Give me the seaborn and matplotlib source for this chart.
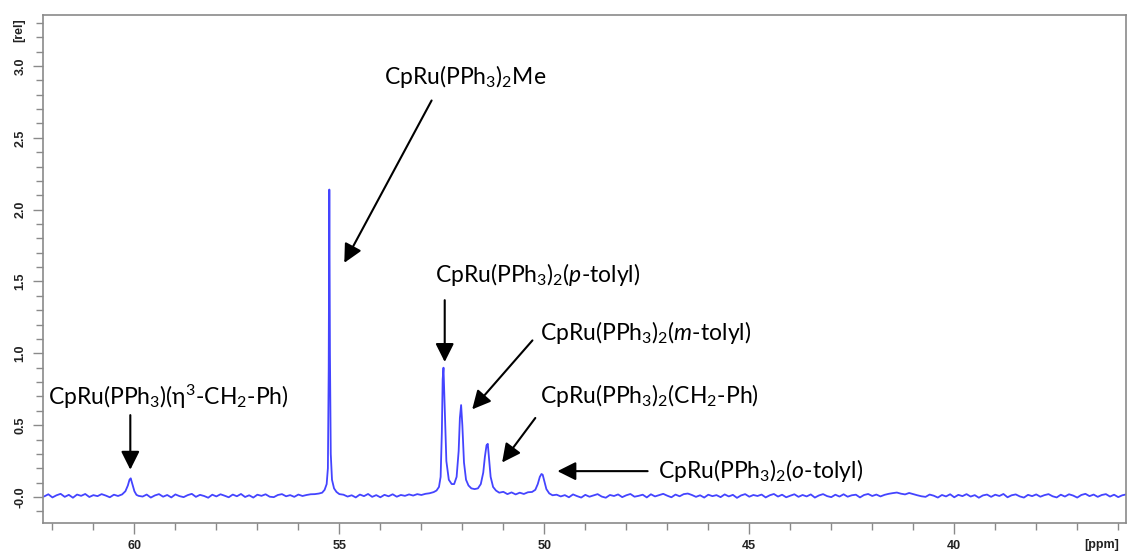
import numpy as np
import pandas as pd
import matplotlib
matplotlib.use("Agg")
import matplotlib.pyplot as plt
import matplotlib.transforms as mtransforms
from matplotlib.ticker import MultipleLocator
import seaborn as sns

# ---------------- data ----------------
ppm_a = [62.2, 62.1, 62.0, 61.9, 61.8, 61.7, 61.6, 61.5, 61.4, 61.3, 61.2, 61.1,
         61.0, 60.9, 60.8, 60.7, 60.6, 60.5, 60.4]
rel_a = [0.004, 0.019, -0.003, 0.012, 0.022, 0.001, 0.015, -0.005, 0.017, 0.008,
         0.021, 0.000, 0.013, 0.006, 0.020, 0.010, -0.002, 0.016, 0.007]

ppm_p1 = [60.3, 60.22, 60.16, 60.12, 60.09, 60.05, 60.0, 59.95, 59.9]
rel_p1 = [0.018, 0.040, 0.080, 0.120, 0.130, 0.090, 0.040, 0.015, 0.008]

ppm_b = [59.8, 59.7, 59.6, 59.5, 59.4, 59.3, 59.2, 59.1, 59.0, 58.9, 58.8, 58.7,
         58.6, 58.5, 58.4, 58.3, 58.2, 58.1, 58.0, 57.9, 57.8, 57.7, 57.6, 57.5,
         57.4, 57.3, 57.2, 57.1, 57.0, 56.9, 56.8, 56.7, 56.6, 56.5, 56.4, 56.3,
         56.2, 56.1, 56.0, 55.9, 55.8, 55.7, 55.6, 55.5]
rel_b = [0.003, 0.017, -0.004, 0.011, 0.020, 0.002, 0.014, -0.003, 0.018, 0.006,
         -0.001, 0.013, 0.022, 0.001, 0.015, 0.007, -0.005, 0.016, 0.004, 0.019,
         0.009, -0.002, 0.017, 0.005, 0.021, 0.000, 0.012, -0.004, 0.016, 0.008,
         0.019, 0.002, -0.001, 0.014, 0.020, 0.005, 0.013, 0.001, 0.017, 0.007,
         0.014, 0.019, 0.020, 0.024]

ppm_p2 = [55.42, 55.36, 55.31, 55.28, 55.26, 55.245, 55.23, 55.21, 55.18, 55.13,
          55.07, 55.0]
rel_p2 = [0.030, 0.050, 0.090, 0.200, 0.900, 2.140, 1.000, 0.300, 0.120, 0.060,
          0.035, 0.020]

ppm_c = [54.9, 54.8, 54.7, 54.6, 54.5, 54.4, 54.3, 54.2, 54.1, 54.0, 53.9, 53.8,
         53.7, 53.6, 53.5, 53.4, 53.3, 53.2, 53.1, 53.0, 52.9, 52.8, 52.7]
rel_c = [0.016, 0.003, 0.012, -0.003, 0.017, 0.006, 0.021, 0.001, 0.013, -0.002,
         0.015, 0.005, 0.019, 0.002, 0.014, 0.008, 0.018, 0.010, 0.020, 0.014,
         0.022, 0.026, 0.034]

ppm_p3 = [52.63, 52.57, 52.53, 52.5, 52.48, 52.46, 52.43, 52.39, 52.33, 52.26,
          52.2, 52.14, 52.09, 52.06, 52.03, 52.0, 51.96, 51.91, 51.85, 51.78,
          51.7, 51.62, 51.55, 51.49, 51.45, 51.41, 51.38, 51.35, 51.31, 51.25,
          51.18, 51.1, 51.0, 50.9, 50.8, 50.7, 50.6, 50.5, 50.4, 50.3,
          50.22, 50.16, 50.11, 50.07, 50.04, 50.0, 49.95, 49.88, 49.8]
rel_p3 = [0.045, 0.070, 0.140, 0.450, 0.820, 0.900, 0.620, 0.250, 0.120, 0.090,
          0.090, 0.140, 0.320, 0.550, 0.640, 0.500, 0.240, 0.120, 0.080, 0.060,
          0.055, 0.060, 0.090, 0.170, 0.280, 0.360, 0.370, 0.270, 0.140, 0.070,
          0.045, 0.030, 0.036, 0.020, 0.032, 0.018, 0.030, 0.021, 0.033, 0.035,
          0.050, 0.090, 0.140, 0.160, 0.155, 0.110, 0.055, 0.025, 0.012]

ppm_d = [49.7, 49.6, 49.5, 49.4, 49.3, 49.2, 49.1, 49.0, 48.9, 48.8,
         48.7, 48.6, 48.5, 48.4, 48.3, 48.2, 48.1, 48.0, 47.9, 47.8,
         47.7, 47.6, 47.5, 47.4, 47.3, 47.2, 47.1, 47.0, 46.9, 46.8,
         46.7, 46.6, 46.5, 46.4, 46.3, 46.2, 46.1, 46.0, 45.9, 45.8,
         45.7, 45.6, 45.5, 45.4, 45.3, 45.2, 45.1, 45.0, 44.9, 44.8,
         44.7, 44.6, 44.5, 44.4, 44.3, 44.2, 44.1, 44.0, 43.9, 43.8,
         43.7, 43.6, 43.5, 43.4, 43.3, 43.2, 43.1, 43.0, 42.9, 42.8,
         42.7, 42.6, 42.5, 42.4, 42.3, 42.2, 42.1, 42.0, 41.9, 41.8,
         41.7, 41.6, 41.5, 41.4, 41.3, 41.2, 41.1, 41.0, 40.9, 40.8,
         40.7, 40.6, 40.5, 40.4, 40.3, 40.2, 40.1, 40.0, 39.9, 39.8,
         39.7, 39.6, 39.5, 39.4, 39.3, 39.2, 39.1, 39.0, 38.9, 38.8,
         38.7, 38.6, 38.5, 38.4, 38.3, 38.2, 38.1, 38.0, 37.9, 37.8,
         37.7, 37.6, 37.5, 37.4, 37.3, 37.2, 37.1, 37.0, 36.9, 36.8,
         36.7, 36.6, 36.5, 36.4, 36.3, 36.2, 36.1, 36.0, 35.9, 35.8]
rel_d = [0.016, 0.004, 0.013, -0.002, 0.018, 0.006, -0.004, 0.015, 0.002, 0.011,
         0.020, 0.003, -0.005, 0.014, 0.007, 0.018, -0.001, 0.012, 0.021, 0.002,
         0.008, 0.016, -0.003, 0.019, 0.004, 0.013, 0.022, 0.009, -0.002, 0.017,
         0.005, 0.020, 0.024, 0.014, 0.001, 0.012, -0.004, 0.016, 0.006, 0.013,
         -0.001, 0.018, 0.004, 0.015, -0.006, 0.011, 0.020, 0.002, 0.014, 0.007,
         0.017, -0.003, 0.012, 0.021, 0.003, 0.016, -0.002, 0.009, 0.019, 0.001,
         0.014, 0.004, 0.018, -0.004, 0.011, 0.020, 0.006, -0.001, 0.016, 0.003,
         0.019, 0.002, 0.012, 0.016, -0.003, 0.014, 0.021, 0.007, 0.017, 0.004,
         0.015, 0.022, 0.027, 0.031, 0.023, 0.018, 0.028, 0.020, 0.012, 0.005,
         0.001, 0.017, 0.009, -0.004, 0.014, 0.004, 0.019, -0.002, 0.015, 0.006,
         0.020, 0.003, 0.013, -0.005, 0.011, 0.017, 0.001, 0.016, 0.007, 0.021,
         -0.002, 0.012, 0.018, 0.004, -0.004, 0.015, 0.006, 0.018, 0.002, 0.013,
         0.020, 0.005, -0.003, 0.016, 0.003, 0.019, 0.010, -0.004, 0.014, 0.022,
         0.006, 0.017, 0.001, 0.014, 0.020, 0.003, 0.016, -0.001, 0.012, 0.018]

x_major = [60, 55, 50, 45, 40]
x_labels = ["60", "55", "50", "45", "40"]
y_major = [0.0, 0.5, 1.0, 1.5, 2.0, 2.5, 3.0]
y_labels = ["-0.0", "0.5", "1.0", "1.5", "2.0", "2.5", "3.0"]

labels = [
    r"CpRu(PPh$_3$)$_2$Me",
    r"CpRu(PPh$_3$)$_2$($\mathit{p}$-tolyl)",
    r"CpRu(PPh$_3$)$_2$($\mathit{m}$-tolyl)",
    r"CpRu(PPh$_3$)$_2$(CH$_2$-Ph)",
    r"CpRu(PPh$_3$)$_2$($\mathit{o}$-tolyl)",
    r"CpRu(PPh$_3$)(η$^3$-CH$_2$-Ph)",
]

# ---------------- layout / annotation positions ----------------
text_pos = [(53.90, 2.875), (52.67, 1.497), (50.10, 1.093),
            (50.10, 0.654), (47.23, 0.132), (62.11, 0.640)]
arrow_start = [(52.75, 2.76), (52.43, 1.37), (50.29, 1.09),
               (50.22, 0.55), (47.48, 0.18), (60.10, 0.57)]
arrow_tip = [(54.88, 1.63), (52.43, 0.94), (51.76, 0.61),
             (51.03, 0.24), (49.68, 0.18), (60.10, 0.19)]

sns.set_style("ticks")
plt.rcParams["font.family"] = ["Lato", "DejaVu Sans"]
plt.rcParams["mathtext.fontset"] = "custom"
plt.rcParams["mathtext.rm"] = "Lato"
plt.rcParams["mathtext.it"] = "Lato:italic"
plt.rcParams["mathtext.bf"] = "Lato:bold"

fig = plt.figure(figsize=(11.28, 5.54), dpi=100)
ax = fig.add_axes([43 / 1128, 1 - 523 / 554, 1083 / 1128, 508 / 554])

ppm = ppm_a + ppm_p1 + ppm_b + ppm_p2 + ppm_c + ppm_p3 + ppm_d
rel = rel_a + rel_p1 + rel_b + rel_p2 + rel_c + rel_p3 + rel_d
df = pd.DataFrame({"ppm": ppm, "rel": rel})
sns.lineplot(data=df, x="ppm", y="rel", sort=False, estimator=None,
             color="#4444ff", linewidth=1.3, ax=ax)

ax.set_xlim(62.23, 35.81)
ax.set_ylim(-0.181, 3.355)
ax.set_xlabel("")
ax.set_ylabel("")

spine_c = "#8a8a8a"
for s in ax.spines.values():
    s.set_visible(True)
    s.set_color(spine_c)
    s.set_linewidth(1.2)

tick_font = dict(family="Liberation Sans", weight="bold", size=9)
ax.set_xticks(x_major, x_labels, fontfamily="Liberation Sans", fontweight="bold")
ax.set_yticks(y_major, y_labels, fontfamily="Liberation Sans", fontweight="bold",
              rotation=90, va="center")
ax.xaxis.set_minor_locator(MultipleLocator(1))
ax.yaxis.set_minor_locator(MultipleLocator(0.1))
ax.tick_params(axis="x", which="major", direction="out", length=8, width=1,
               color=spine_c, pad=4, labelsize=9, labelcolor="#222222",
               bottom=True, top=False)
ax.tick_params(axis="x", which="minor", direction="out", length=5, width=1,
               color=spine_c, bottom=True, top=False)
ax.tick_params(axis="y", which="major", direction="out", length=7, width=1,
               color=spine_c, pad=5, labelsize=9, labelcolor="#222222",
               left=True, right=False)
ax.tick_params(axis="y", which="minor", direction="out", length=5, width=1,
               color=spine_c, left=True, right=False)

# unit labels
ax.text(36.4, -0.044, "[ppm]",
        transform=mtransforms.blended_transform_factory(ax.transData, ax.transAxes),
        ha="center", va="center", color="#222222", **tick_font)
ax.text(-0.0222, 3.25, "[rel]",
        transform=mtransforms.blended_transform_factory(ax.transAxes, ax.transData),
        ha="center", va="center", rotation=90, color="#222222", **tick_font)

for lab, tp, st, tip in zip(labels, text_pos, arrow_start, arrow_tip):
    ax.text(tp[0], tp[1], lab, ha="left", va="baseline", fontsize=16.5, color="black")
    ax.annotate("", xy=tip, xytext=st,
                arrowprops=dict(arrowstyle="-|>,head_width=0.4,head_length=0.8",
                                mutation_scale=14, color="black", lw=1.5,
                                shrinkA=0, shrinkB=0))

fig.savefig("out.png", dpi=100)
